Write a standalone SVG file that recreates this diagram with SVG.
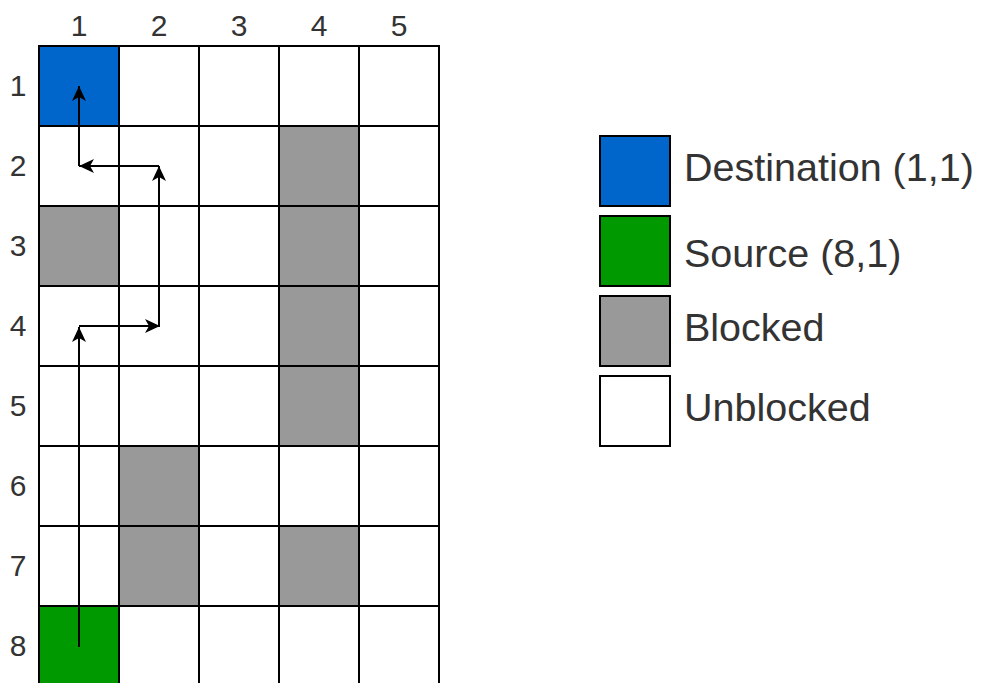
<svg xmlns="http://www.w3.org/2000/svg" width="981" height="683" viewBox="0 0 981 683">
<defs>
<style>
.c{stroke:#000;stroke-width:2;}
.w{fill:#fff;}
.b{fill:#0066cc;}
.g{fill:#009900;}
.k{fill:#999999;}
.lbl{font-family:"Liberation Sans",Arial,sans-serif;font-size:30px;fill:#333;text-anchor:middle;}
.leg{font-family:"Liberation Sans",Arial,sans-serif;font-size:39.5px;fill:#333;}
.a{stroke:#000;stroke-width:2;fill:none;marker-end:url(#arr);}
</style>
<marker id="arr" markerUnits="userSpaceOnUse" markerWidth="16" markerHeight="14" viewBox="0 0 16 14" refX="15" refY="7" orient="auto">
<path d="M0,0 L15,7 L0,14 L4,7 Z" fill="#000"/>
</marker>
</defs>
<rect width="981" height="683" fill="#fff"/>
<g id="labels">
<text class="lbl" x="79" y="36">1</text>
<text class="lbl" x="159" y="36">2</text>
<text class="lbl" x="239" y="36">3</text>
<text class="lbl" x="319" y="36">4</text>
<text class="lbl" x="399" y="36">5</text>
<text class="lbl" x="18" y="96">1</text>
<text class="lbl" x="18" y="176">2</text>
<text class="lbl" x="18" y="256">3</text>
<text class="lbl" x="18" y="336">4</text>
<text class="lbl" x="18" y="416">5</text>
<text class="lbl" x="18" y="496">6</text>
<text class="lbl" x="18" y="576">7</text>
<text class="lbl" x="18" y="656">8</text>
</g>
<g id="grid">
<rect class="c b" x="39" y="46" width="80" height="80"/>
<rect class="c w" x="119" y="46" width="80" height="80"/>
<rect class="c w" x="199" y="46" width="80" height="80"/>
<rect class="c w" x="279" y="46" width="80" height="80"/>
<rect class="c w" x="359" y="46" width="80" height="80"/>
<rect class="c w" x="39" y="126" width="80" height="80"/>
<rect class="c w" x="119" y="126" width="80" height="80"/>
<rect class="c w" x="199" y="126" width="80" height="80"/>
<rect class="c k" x="279" y="126" width="80" height="80"/>
<rect class="c w" x="359" y="126" width="80" height="80"/>
<rect class="c k" x="39" y="206" width="80" height="80"/>
<rect class="c w" x="119" y="206" width="80" height="80"/>
<rect class="c w" x="199" y="206" width="80" height="80"/>
<rect class="c k" x="279" y="206" width="80" height="80"/>
<rect class="c w" x="359" y="206" width="80" height="80"/>
<rect class="c w" x="39" y="286" width="80" height="80"/>
<rect class="c w" x="119" y="286" width="80" height="80"/>
<rect class="c w" x="199" y="286" width="80" height="80"/>
<rect class="c k" x="279" y="286" width="80" height="80"/>
<rect class="c w" x="359" y="286" width="80" height="80"/>
<rect class="c w" x="39" y="366" width="80" height="80"/>
<rect class="c w" x="119" y="366" width="80" height="80"/>
<rect class="c w" x="199" y="366" width="80" height="80"/>
<rect class="c k" x="279" y="366" width="80" height="80"/>
<rect class="c w" x="359" y="366" width="80" height="80"/>
<rect class="c w" x="39" y="446" width="80" height="80"/>
<rect class="c k" x="119" y="446" width="80" height="80"/>
<rect class="c w" x="199" y="446" width="80" height="80"/>
<rect class="c w" x="279" y="446" width="80" height="80"/>
<rect class="c w" x="359" y="446" width="80" height="80"/>
<rect class="c w" x="39" y="526" width="80" height="80"/>
<rect class="c k" x="119" y="526" width="80" height="80"/>
<rect class="c w" x="199" y="526" width="80" height="80"/>
<rect class="c k" x="279" y="526" width="80" height="80"/>
<rect class="c w" x="359" y="526" width="80" height="80"/>
<rect class="c g" x="39" y="606" width="80" height="80"/>
<rect class="c w" x="119" y="606" width="80" height="80"/>
<rect class="c w" x="199" y="606" width="80" height="80"/>
<rect class="c w" x="279" y="606" width="80" height="80"/>
<rect class="c w" x="359" y="606" width="80" height="80"/>
</g>
<g id="connectors">
<line class="a" x1="79" y1="647" x2="79" y2="327"/>
<line class="a" x1="79" y1="326" x2="160" y2="326"/>
<line class="a" x1="159" y1="326" x2="159" y2="166"/>
<line class="a" x1="159" y1="166" x2="79" y2="166"/>
<line class="a" x1="79" y1="166" x2="79" y2="86"/>
</g>
<g id="legend-destination">
<rect class="c b" x="600" y="136" width="70" height="70"/>
<text class="leg" x="684" y="181">Destination (1,1)</text>
</g>
<g id="legend-source">
<rect class="c g" x="600" y="216" width="70" height="70"/>
<text class="leg" x="684" y="267">Source (8,1)</text>
</g>
<g id="legend-blocked">
<rect class="c k" x="600" y="296" width="70" height="70"/>
<text class="leg" x="684" y="341">Blocked</text>
</g>
<g id="legend-unblocked">
<rect class="c w" x="600" y="376" width="70" height="70"/>
<text class="leg" x="684" y="421">Unblocked</text>
</g>
</svg>
